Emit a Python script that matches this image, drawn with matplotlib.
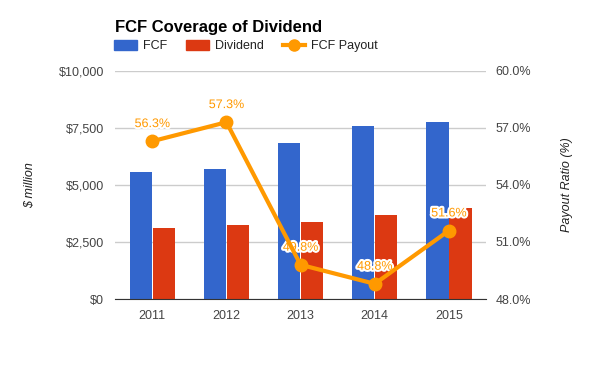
import matplotlib.pyplot as plt
import matplotlib.patheffects as pe
from matplotlib.lines import Line2D
from matplotlib.patches import Patch
from matplotlib.ticker import FuncFormatter

plt.rcParams['font.family'] = ['Liberation Sans', 'DejaVu Sans']

years = ['2011', '2012', '2013', '2014', '2015']
fcf = [5570, 5715, 6842, 7588, 7763]
dividend = [3114, 3260, 3377, 3684, 3991]
payout = [56.3, 57.3, 49.8, 48.8, 51.6]

blue = '#3366CC'
red = '#DC3912'
orange = '#FF9900'

fig = plt.figure(figsize=(6, 3.71), dpi=100)
ax = fig.add_axes([0.192, 0.194, 0.618, 0.615])
ax2 = ax.twinx()

x = list(range(len(years)))
w = 0.3
ax.bar([i - w / 2 - 0.005 for i in x], fcf, width=w, color=blue, zorder=2)
ax.bar([i + w / 2 + 0.005 for i in x], dividend, width=w, color=red, zorder=2)

ax.set_ylim(0, 10000)
ax.set_yticks([0, 2500, 5000, 7500, 10000])
ax.yaxis.set_major_formatter(FuncFormatter(lambda v, p: '${:,.0f}'.format(v)))
ax.set_xlim(-0.5, 4.5)
ax.set_xticks(x)
ax.set_xticklabels(years)
ax.grid(axis='y', color='#cccccc', linewidth=1, zorder=0)
for s in ['top', 'left', 'right']:
    ax.spines[s].set_visible(False)
ax.spines['bottom'].set_color('#333333')
ax.tick_params(length=0, labelsize=9, colors='#444444', pad=8)
ax.set_ylabel('$ million', style='italic', fontsize=9, color='#222222', labelpad=16)

ax2.plot(x, payout, color=orange, linewidth=3, marker='o', markersize=9, zorder=5)
ax2.set_ylim(48, 60)
ax2.set_yticks([48, 51, 54, 57, 60])
ax2.yaxis.set_major_formatter(FuncFormatter(lambda v, p: '{:.1f}%'.format(v)))
for s in ['top', 'left', 'right', 'bottom']:
    ax2.spines[s].set_visible(False)
ax2.tick_params(length=0, labelsize=9, colors='#444444', pad=7)
ax2.set_ylabel('Payout Ratio (%)', style='italic', fontsize=9, color='#222222', labelpad=21)

for i, v in enumerate(payout):
    ax2.annotate('{:.1f}%'.format(v), (i, v), xytext=(0, 8), textcoords='offset points',
                 ha='center', va='bottom', color=orange, fontsize=9,
                 path_effects=[pe.withStroke(linewidth=3, foreground='white')])

fig.text(0.192, 0.927, 'FCF Coverage of Dividend', fontsize=12, fontweight='bold', va='center')

handles = [Patch(color=blue), Patch(color=red),
           Line2D([], [], color=orange, linewidth=3, marker='o', markersize=8)]
fig.legend(handles, ['FCF', 'Dividend', 'FCF Payout'], loc='center left',
           bbox_to_anchor=(0.172, 0.876), ncol=3, frameon=False, fontsize=9,
           handlelength=1.8, handleheight=0.9, columnspacing=1.5, handletextpad=0.5,
           labelcolor='#222222')

fig.savefig('out.png', dpi=100)
